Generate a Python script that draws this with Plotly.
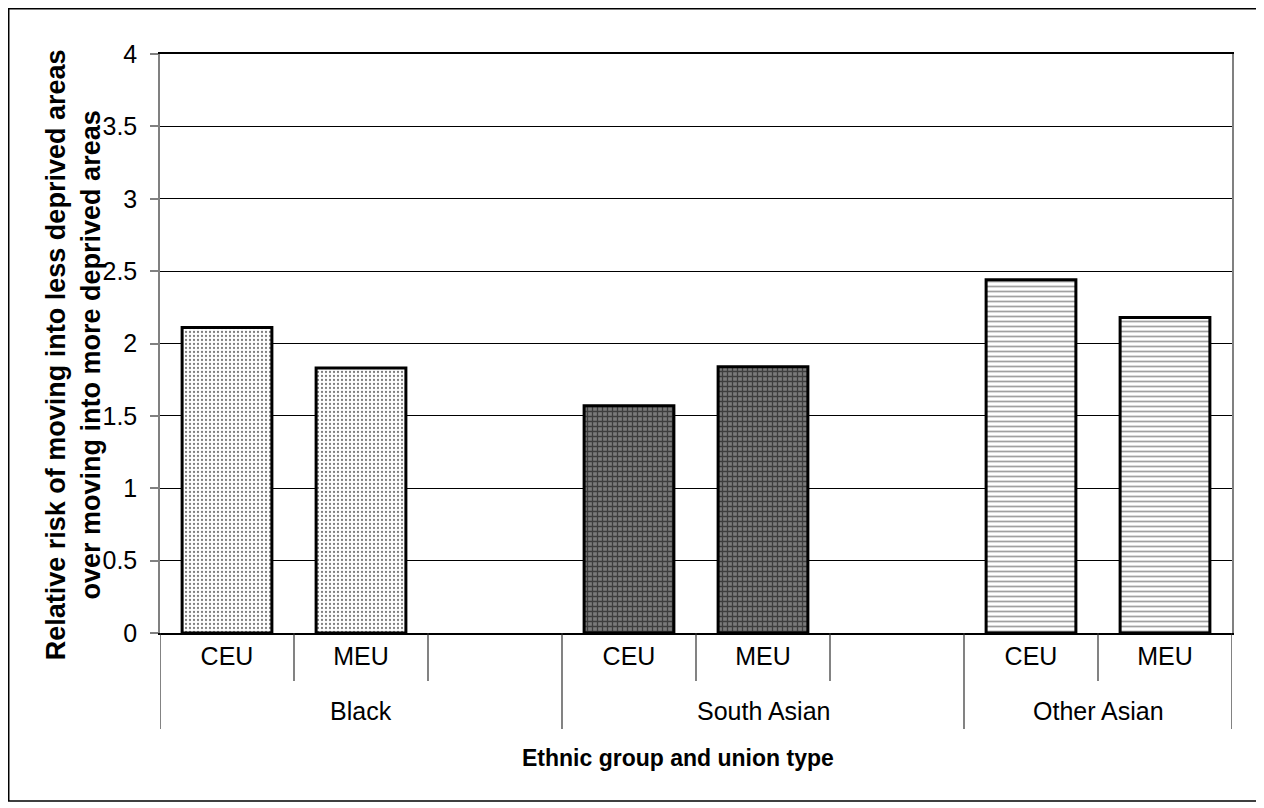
import plotly.graph_objects as go

# ---- data ----
groups = ["Black", "Black", "Black",
          "South Asian", "South Asian", "South Asian",
          "Other Asian", "Other Asian"]
union_types = ["CEU", "MEU", "", "CEU", "MEU", "", "CEU", "MEU"]
relative_risk = [2.11, 1.83, None, 1.57, 1.84, None, 2.44, 2.18]
y_ticks = [0, 0.5, 1, 1.5, 2, 2.5, 3, 3.5, 4]

FONT = "Liberation Sans, Arial, sans-serif"

# pattern style per ethnic group
styles = {
    "Black": dict(shape=".", fgcolor="#000000", bgcolor="#ffffff", size=4, solidity=0.25),
    "South Asian": dict(shape="+", fgcolor="#000000", bgcolor="#7a7a7a", size=5, solidity=0.45),
    "Other Asian": dict(shape="-", fgcolor="#444444", bgcolor="#ffffff", size=5, solidity=0.35),
}

n = len(groups)
slots = list(range(n))          # category slot index on the x axis
group_order = []
for g in groups:
    if g not in group_order:
        group_order.append(g)

fig = go.Figure()
for g in group_order:
    idx = [i for i in slots if groups[i] == g and relative_risk[i] is not None]
    fig.add_trace(go.Bar(
        x=[slots[i] for i in idx],
        y=[relative_risk[i] for i in idx],
        width=0.67,
        marker=dict(color=styles[g]["bgcolor"],
                    line=dict(color="#000000", width=3),
                    pattern=styles[g]),
        showlegend=False,
        hovertext=[f"{g} {union_types[i]}" for i in idx],
        hoverinfo="text+y",
    ))

SUB_DIV = -48 / 579     # depth of union-type dividers (paper units)
GRP_DIV = -96 / 579     # depth of group dividers
GRP_LAB = -78 / 579     # vertical position of group labels

shapes, annotations = [], []
# dividers: short between union types, long between groups and at the ends
for i in range(-1, n):
    xb = i + 0.5
    if i == -1 or i == n - 1 or groups[i] != groups[i + 1]:
        depth = GRP_DIV
    else:
        depth = SUB_DIV
    shapes.append(dict(type="line", xref="x", yref="paper",
                       x0=xb, x1=xb, y0=0, y1=depth,
                       line=dict(color="#303030", width=1.2)))
# group labels centred on their slots
for g in group_order:
    idx = [i for i in slots if groups[i] == g]
    annotations.append(dict(text=g, xref="x", yref="paper",
                            x=(min(idx) + max(idx)) / 2, y=GRP_LAB,
                            xanchor="center", yanchor="middle", showarrow=False,
                            font=dict(family=FONT, size=25, color="#000000")))
# outer border of the chart
shapes.append(dict(type="rect", xref="paper", yref="paper",
                   x0=-0.1411, x1=1.0261, y0=-0.2902, y1=1.0781,
                   line=dict(color="#000000", width=1.5)))

annotations += [
    dict(text="<b>Relative risk of moving into less deprived areas<br>over moving into more deprived areas</b>",
         xref="paper", yref="paper", x=-0.081, y=0.48,
         xanchor="center", yanchor="middle", textangle=-90,
         showarrow=False, font=dict(family=FONT, size=27, color="#000000")),
    dict(text="<b>Ethnic group and union type</b>",
         xref="paper", yref="paper", x=0.483, y=-0.216,
         xanchor="center", yanchor="middle",
         showarrow=False, font=dict(family=FONT, size=23, color="#000000")),
]

fig.update_layout(
    width=1264, height=808,
    margin=dict(l=152, r=40, t=46, b=183),
    paper_bgcolor="white", plot_bgcolor="white",
    barmode="overlay",
    font=dict(family=FONT, size=25, color="#000000"),
    shapes=shapes,
    annotations=annotations,
    xaxis=dict(
        range=[-0.5, n - 0.5],
        tickvals=slots, ticktext=union_types,
        showline=True, linecolor="#000000", linewidth=1.5, mirror=True,
        showgrid=False, ticks="", zeroline=False,
        tickfont=dict(family=FONT, size=25, color="#000000"),
        automargin=False,
    ),
    yaxis=dict(
        range=[0, 4], tickvals=y_ticks,
        ticktext=[f"{v:g}" for v in y_ticks],
        showline=True, linecolor="#808080", linewidth=1.5, mirror=True,
        ticks="outside", ticklen=8, tickcolor="#808080", tickwidth=1.5,
        ticklabelstandoff=8,
        showgrid=True, gridcolor="#000000", gridwidth=1,
        zeroline=False,
        tickfont=dict(family=FONT, size=25, color="#000000"),
        automargin=False,
    ),
)

fig.write_html("out.html")
